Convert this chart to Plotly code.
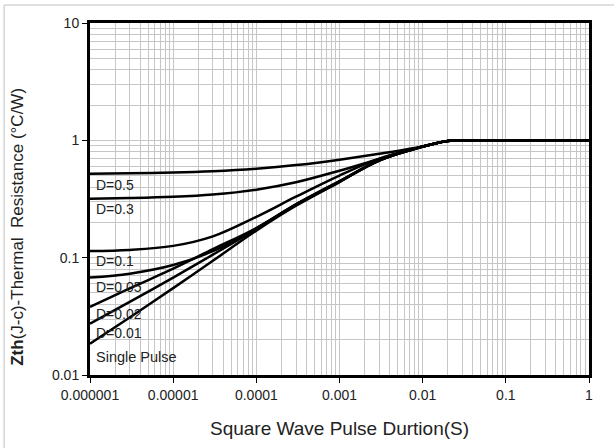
import math
import plotly.graph_objects as go

# Pulse duration (s)
t = [1e-6, 3e-6, 1e-5, 3e-5, 1e-4, 3e-4, 1e-3, 3e-3, 1e-2, 1.5e-2, 2e-2, 3e-2, 1e-1, 1]

# Zth(j-c) values (°C/W) for each duty cycle
z_d05 = [0.52, 0.524, 0.531, 0.545, 0.573, 0.615, 0.684, 0.767, 0.885, 0.95, 0.985, 1.0, 1.0, 1.0]
z_d03 = [0.318, 0.322, 0.330, 0.345, 0.380, 0.439, 0.551, 0.693, 0.883, 0.95, 0.985, 1.0, 1.0, 1.0]
z_d01 = [0.114, 0.1165, 0.126, 0.152, 0.223, 0.331, 0.501, 0.698, 0.886, 0.95, 0.985, 1.0, 1.0, 1.0]
z_d005 = [0.0676, 0.073, 0.0865, 0.1135, 0.1774, 0.2844, 0.4498, 0.675, 0.886, 0.95, 0.985, 1.0, 1.0, 1.0]
z_d002 = [0.038, 0.0547, 0.0805, 0.118, 0.179, 0.285, 0.447, 0.673, 0.886, 0.95, 0.985, 1.0, 1.0, 1.0]
z_d001 = [0.0274, 0.042, 0.0676, 0.106, 0.175, 0.283, 0.445, 0.673, 0.886, 0.95, 0.985, 1.0, 1.0, 1.0]
z_single = [0.0185, 0.0309, 0.055, 0.094, 0.17, 0.277, 0.441, 0.673, 0.886, 0.95, 0.985, 1.0, 1.0, 1.0]

series = [z_d05, z_d03, z_d01, z_d005, z_d002, z_d001, z_single]
labels = ["D=0.5", "D=0.3", "D=0.1", "D=0.05", "D=0.02", "D=0.01", "Single Pulse"]
label_y = [0.42, 0.258, 0.093, 0.0557, 0.0333, 0.0229, 0.01425]

x_tickvals = [1e-6, 1e-5, 1e-4, 1e-3, 1e-2, 1e-1, 1]
x_ticktext = ["0.000001", "0.00001", "0.0001", "0.001", "0.01", "0.1", "1"]
y_tickvals = [0.01, 0.1, 1, 10]
y_ticktext = ["0.01", "0.1", "1", "10"]

FONT = "Liberation Sans, Arial"
TXT = "#222222"

fig = go.Figure()
for ys, name in zip(series, labels):
    fig.add_trace(go.Scatter(x=t, y=ys, mode="lines", name=name,
                             line=dict(color="black", width=2.5, shape="spline", smoothing=1.0),
                             showlegend=False))

for name, ly in zip(labels, label_y):
    fig.add_annotation(x=0.008, xref="paper", y=math.log10(ly), yref="y", yanchor="middle",
                       text=name, showarrow=False, xanchor="left",
                       font=dict(family=FONT, size=14 if name != "Single Pulse" else 14.5, color=TXT))

# y-axis title (placed as in the reference)
fig.add_annotation(x=-0.145, xref="paper", y=0.42, yref="paper", textangle=-90,
                   text="<b>Zth</b>(J-c)-Thermal  Resistance (°C/W)", showarrow=False,
                   xanchor="center", yanchor="middle",
                   font=dict(family=FONT, size=17, color=TXT))

grid_c = "#c6c6c6"
fig.update_xaxes(type="log", range=[-6, 0],
                 tickmode="array", tickvals=x_tickvals, ticktext=x_ticktext,
                 showgrid=True, gridcolor=grid_c, gridwidth=1,
                 minor=dict(dtick="D1", showgrid=True, gridcolor=grid_c, gridwidth=1, ticks=""),
                 showline=True, mirror=True, linecolor="black", linewidth=3,
                 ticks="outside", ticklen=5, tickcolor="black", tickwidth=1,
                 tickfont=dict(family=FONT, size=14, color=TXT),
                 title=dict(text="Square Wave Pulse Durtion(S)", standoff=20,
                            font=dict(family=FONT, size=19, color=TXT)),
                 zeroline=False)
fig.update_yaxes(type="log", range=[-2, 1],
                 tickmode="array", tickvals=y_tickvals, ticktext=y_ticktext,
                 showgrid=True, gridcolor=grid_c, gridwidth=1,
                 minor=dict(dtick="D1", showgrid=True, gridcolor=grid_c, gridwidth=1, ticks=""),
                 showline=True, mirror=True, linecolor="black", linewidth=3,
                 ticks="outside", ticklen=5, tickcolor="black", tickwidth=1,
                 tickfont=dict(family=FONT, size=14, color=TXT),
                 zeroline=False)

# outer light frame
fig.add_shape(type="line", xref="paper", yref="paper", x0=-0.172, x1=1.06, y0=1.051, y1=1.051,
              line=dict(color="#d4d4d4", width=1.5))
fig.add_shape(type="line", xref="paper", yref="paper", x0=-0.172, x1=-0.172, y0=1.051, y1=-0.22,
              line=dict(color="#d4d4d4", width=1.5))

fig.update_layout(width=614, height=448,
                  margin=dict(l=90, r=25, t=23, b=73, autoexpand=False),
                  paper_bgcolor="white", plot_bgcolor="white")

fig.write_html("out.html")
